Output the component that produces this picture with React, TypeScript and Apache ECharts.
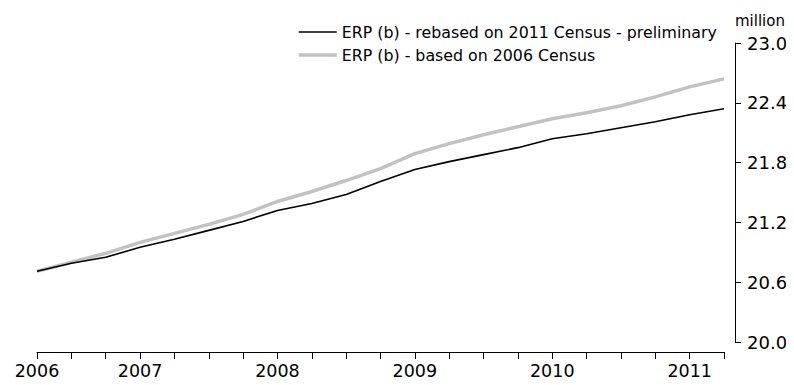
import React, { useEffect, useRef } from "react";
import * as echarts from "echarts";

const quarters = [
  "Jun 2006", "Sep 2006", "Dec 2006", "Mar 2007", "Jun 2007", "Sep 2007", "Dec 2007",
  "Mar 2008", "Jun 2008", "Sep 2008", "Dec 2008", "Mar 2009", "Jun 2009", "Sep 2009",
  "Dec 2009", "Mar 2010", "Jun 2010", "Sep 2010", "Dec 2010", "Mar 2011", "Jun 2011",
];

const rebased2011 = [
  20.71, 20.79, 20.85, 20.95, 21.03, 21.12, 21.21, 21.32, 21.39, 21.48, 21.61,
  21.73, 21.81, 21.88, 21.95, 22.04, 22.09, 22.15, 22.21, 22.28, 22.34,
];

const based2006 = [
  20.71, 20.8, 20.89, 21.0, 21.09, 21.18, 21.28, 21.41, 21.51, 21.62, 21.74,
  21.89, 21.99, 22.08, 22.16, 22.24, 22.3, 22.37, 22.46, 22.56, 22.64,
];

const yTicks = [20.0, 20.6, 21.2, 21.8, 22.4, 23.0];

const seriesNames = [
  "ERP (b) - rebased on 2011 Census - preliminary",
  "ERP (b) - based on 2006 Census",
];

const FONT = "DejaVu Sans";

function xLabel(value: string, index: number): string {
  if (index === 0) return value.split(" ")[1];
  if (value.startsWith("Mar")) return value.split(" ")[1];
  return "";
}

export default function App() {
  const ref = useRef<HTMLDivElement>(null);
  useEffect(() => {
    if (!ref.current) return;
    const chart = echarts.init(ref.current, undefined, { renderer: "svg" });
    chart.setOption({
      animation: false,
      backgroundColor: "#fff",
      textStyle: { fontFamily: FONT, color: "#000" },
      grid: { left: 37, right: 70, top: 43, bottom: 43, containLabel: false },
      legend: {
        orient: "vertical",
        left: 297,
        top: 24,
        padding: 0,
        itemWidth: 38,
        itemHeight: 14,
        itemGap: 7,
        selectedMode: false,
        lineStyle: { width: "inherit" },
        itemStyle: { opacity: 0, borderWidth: 0 },
        textStyle: { fontFamily: FONT, fontSize: 15.8, color: "#000" },
        data: seriesNames,
      },
      xAxis: {
        type: "category",
        data: quarters,
        boundaryGap: false,
        offset: 10,
        axisLine: { lineStyle: { color: "#000", width: 1 } },
        axisTick: { show: true, interval: 0, length: 7, lineStyle: { color: "#000" } },
        axisLabel: {
          interval: 0,
          margin: 10,
          fontFamily: FONT,
          fontSize: 17.5,
          color: "#000",
          formatter: (v: string, i: number) => xLabel(v, i),
        },
        splitLine: { show: false },
      },
      yAxis: {
        type: "value",
        position: "right",
        min: 20,
        max: 23,
        offset: 11,
        name: "million",
        nameLocation: "end",
        nameGap: 15,
        nameTextStyle: { fontFamily: FONT, fontSize: 15, color: "#000", align: "left" },
        axisLine: { show: true, lineStyle: { color: "#000", width: 1 } },
        axisTick: { show: true, length: 6, customValues: yTicks, lineStyle: { color: "#000" } },
        axisLabel: {
          margin: 12,
          fontFamily: FONT,
          fontSize: 18,
          color: "#000",
          customValues: yTicks,
          formatter: (v: number) => v.toFixed(1),
        },
        splitLine: { show: false },
      },
      series: [
        {
          name: seriesNames[1],
          type: "line",
          data: based2006,
          symbol: "none",
          lineStyle: { color: "#c2c2c2", width: 3.5 },
          itemStyle: { color: "#c2c2c2" },
          z: 2,
        },
        {
          name: seriesNames[0],
          type: "line",
          data: rebased2011,
          symbol: "none",
          lineStyle: { color: "#000", width: 1.6 },
          itemStyle: { color: "#000" },
          z: 3,
        },
      ],
    });
    return () => chart.dispose();
  }, []);
  return <div ref={ref} style={{ width: 794, height: 385, margin: -8 }} />;
}
